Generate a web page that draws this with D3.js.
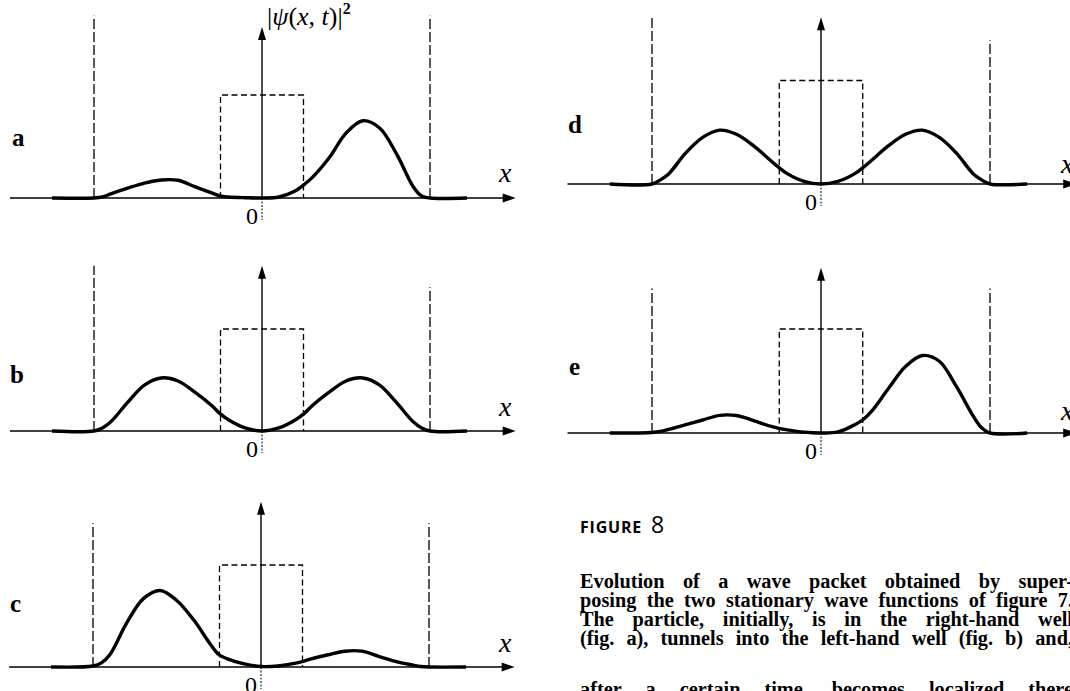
<!DOCTYPE html>
<html><head><meta charset="utf-8">
<script src="https://cdn.jsdelivr.net/npm/d3@7"></script>
<style>body{margin:0;background:#fff} svg{display:block}</style>
</head><body>
<svg id="chart" width="1070" height="691"></svg>
<script>
// ---------- data ----------
const panelLabels = ["a", "b", "c", "d", "e"];
const xSamples = [-1.25, -1.0, -0.95, -0.9, -0.8, -0.7, -0.6, -0.5, -0.4, -0.3, -0.25, -0.2, -0.1, 0,
                  0.1, 0.2, 0.25, 0.3, 0.4, 0.5, 0.6, 0.7, 0.8, 0.9, 0.95, 1.0, 1.22];
const densityA = [0, 0, 0.01, 0.04, 0.095, 0.145, 0.175, 0.172, 0.11, 0.05, 0.02, 0.01, 0.003, 0,
                  0.01, 0.07, 0.13, 0.2, 0.39, 0.63, 0.75, 0.68, 0.43, 0.11, 0.02, 0, 0];
const densityB = [0, 0, 0.03, 0.09, 0.28, 0.45, 0.52, 0.49, 0.38, 0.25, 0.17, 0.11, 0.03, 0,
                  0.03, 0.11, 0.17, 0.25, 0.38, 0.49, 0.52, 0.45, 0.28, 0.09, 0.03, 0, 0];
const densityC = [0, 0.01, 0.04, 0.12, 0.43, 0.67, 0.75, 0.65, 0.46, 0.22, 0.12, 0.08, 0.03, 0.005,
                  0.01, 0.035, 0.055, 0.08, 0.12, 0.155, 0.155, 0.105, 0.055, 0.02, 0.005, 0, 0];
const densityD = [0, 0, 0.04, 0.1, 0.3, 0.45, 0.52, 0.48, 0.37, 0.23, 0.16, 0.1, 0.025, 0,
                  0.025, 0.1, 0.16, 0.23, 0.37, 0.48, 0.52, 0.45, 0.3, 0.1, 0.04, 0, 0];
const densityE = [0, 0.005, 0.015, 0.035, 0.08, 0.125, 0.17, 0.168, 0.12, 0.065, 0.045, 0.03, 0.008, 0,
                  0.01, 0.08, 0.13, 0.21, 0.43, 0.64, 0.745, 0.69, 0.45, 0.165, 0.05, 0, 0];
const wallTopLeft  = [1.77, 1.62, 1.41, 1.61, 1.39];
const wallTopRight = [1.77, 1.41, 1.41, 1.39, 1.39];
const yAxisTop     = [1.66, 1.62, 1.62, 1.61, 1.59];
const wallPosition = 1.0;
const barrierHalfWidth = 0.247;
const barrierHeight = 1.0;
const xAxisDomain = [-1.5, 1.51];
const originLabel = "0";
const xAxisLabel = "x";
const captionTitle = "FIGURE";
const captionNumber = "8";
const captionLines = [
  "Evolution of a wave packet obtained by super-",
  "posing the two stationary wave functions of figure 7.",
  "The particle, initially, is in the right-hand well",
  "(fig. a), tunnels into the left-hand well (fig. b) and,",
  "after a certain time, becomes localized there"
];
const densities = [densityA, densityB, densityC, densityD, densityE];

// ---------- layout ----------
const layout = [
  {cx: 262, y0: 198, sx: 168, sy: 103,   lx: 12,  ly: 146, xl: 499,  xly: 182},
  {cx: 262, y0: 431, sx: 168, sy: 102,   lx: 10,  ly: 383, xl: 499,  xly: 416},
  {cx: 261, y0: 667, sx: 168, sy: 102,   lx: 10,  ly: 612, xl: 499,  xly: 652},
  {cx: 821, y0: 184, sx: 169, sy: 103.5, lx: 568, ly: 133, xl: 1061, xly: 173},
  {cx: 821, y0: 433, sx: 169, sy: 104,   lx: 569, ly: 375, xl: 1061, xly: 420}
];
const serif = "Liberation Serif, Times New Roman, serif";
const svg = d3.select("#chart");

layout.forEach((p, i) => {
  const x = d3.scaleLinear().domain([-1, 1]).range([p.cx - p.sx, p.cx + p.sx]);
  const y = d3.scaleLinear().domain([0, 1]).range([p.y0, p.y0 - p.sy]);
  const g = svg.append("g");

  // x axis
  const xs = x(xAxisDomain[0]), xe = x(xAxisDomain[1]);
  g.append("line").attr("x1", xs).attr("x2", xe - 6).attr("y1", y(0)).attr("y2", y(0))
    .attr("stroke", "#000").attr("stroke-width", 1.5);
  g.append("path").attr("d", `M${xe},${y(0)} L${xe - 13},${y(0) - 4.5} L${xe - 13},${y(0) + 4.5} Z`).attr("fill", "#000");

  // y axis
  const yt = y(yAxisTop[i]);
  g.append("line").attr("x1", x(0)).attr("x2", x(0)).attr("y1", y(0)).attr("y2", yt + 6)
    .attr("stroke", "#000").attr("stroke-width", 1.4);
  g.append("path").attr("d", `M${x(0)},${yt} L${x(0) - 4},${yt + 13} L${x(0) + 4},${yt + 13} Z`).attr("fill", "#000");
  g.append("line").attr("x1", x(0)).attr("x2", x(0)).attr("y1", y(0)).attr("y2", y(0) + 22)
    .attr("stroke", "#000").attr("stroke-width", 1).attr("stroke-dasharray", "2,1.5");

  // walls
  [[-wallPosition, wallTopLeft[i]], [wallPosition, wallTopRight[i]]].forEach(([wx, wt]) => {
    g.append("line").attr("x1", x(wx)).attr("x2", x(wx)).attr("y1", y(0)).attr("y2", y(wt))
      .attr("stroke", "#000").attr("stroke-width", 1.3).attr("stroke-dasharray", "10,3");
  });

  // barrier
  g.append("path")
    .attr("d", `M${x(-barrierHalfWidth)},${y(0)} V${y(barrierHeight)} H${x(barrierHalfWidth)} V${y(0)}`)
    .attr("fill", "none").attr("stroke", "#000").attr("stroke-width", 1.3).attr("stroke-dasharray", "6,3.5");

  // density curve
  const pts = xSamples.map((v, k) => [v, densities[i][k]]);
  g.append("path").datum(pts)
    .attr("d", d3.line().x(d => x(d[0])).y(d => y(Math.max(0, d[1]))).curve(d3.curveCatmullRom.alpha(0.5)))
    .attr("fill", "none").attr("stroke", "#000").attr("stroke-width", 3.4)
    .attr("stroke-linejoin", "round").attr("stroke-linecap", "butt");

  // labels
  g.append("text").attr("x", p.lx).attr("y", p.ly).text(panelLabels[i])
    .attr("font-family", serif).attr("font-weight", "bold").attr("font-size", 25);
  g.append("text").attr("x", p.xl).attr("y", p.xly).text(xAxisLabel)
    .attr("font-family", serif).attr("font-style", "italic").attr("font-size", 28);
  g.append("text").attr("x", x(0) - 10).attr("y", y(0) + 26).attr("text-anchor", "middle").text(originLabel)
    .attr("font-family", serif).attr("font-size", 24);
});

// y-axis label on panel a
const yl = svg.append("text").attr("x", 267).attr("y", 25).attr("font-family", serif).attr("font-size", 26);
yl.append("tspan").text("|");
yl.append("tspan").attr("font-style", "italic").text("ψ");
yl.append("tspan").text("(");
yl.append("tspan").attr("font-style", "italic").text("x");
yl.append("tspan").text(", ");
yl.append("tspan").attr("font-style", "italic").text("t");
yl.append("tspan").text(")|");
yl.append("tspan").attr("font-size", 16).attr("dy", -11).attr("font-weight", "bold").text("2");

// caption
const cap = svg.append("text").attr("x", 580).attr("y", 533);
cap.append("tspan").attr("font-family", "Open Sans, Noto Sans, sans-serif").attr("font-weight", 700)
  .attr("font-size", 16).attr("letter-spacing", 0.8).text(captionTitle);
cap.append("tspan").attr("dx", 9).attr("font-family", "Open Sans, Noto Sans, sans-serif")
  .attr("font-size", 23).text(captionNumber);

const capX = 580, capW = 493, capSize = 20.3;
const baselines = [588, 607, 626, 645, 696];
captionLines.forEach((line, i) => {
  const words = line.split(" ");
  const widths = words.map(w => {
    const t = svg.append("text").attr("font-family", serif).attr("font-weight", "bold").attr("font-size", capSize).text(w);
    const wd = t.node().getComputedTextLength(); t.remove(); return wd;
  });
  const gap = (capW - d3.sum(widths)) / (words.length - 1);
  let cx = capX;
  words.forEach((w, j) => {
    svg.append("text").attr("x", cx).attr("y", baselines[i]).text(w)
      .attr("font-family", serif).attr("font-weight", "bold").attr("font-size", capSize);
    cx += widths[j] + gap;
  });
});
</script>
</body></html>
